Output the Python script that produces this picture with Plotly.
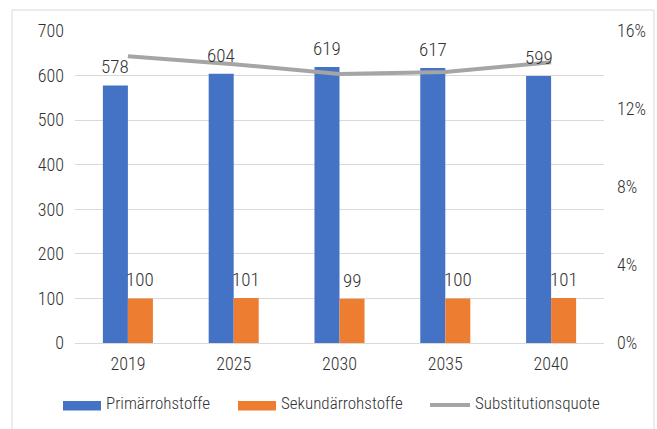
import plotly.graph_objects as go

years = ["2019", "2025", "2030", "2035", "2040"]
primaer = [578, 604, 619, 617, 599]
sekundaer = [100, 101, 99, 100, 101]
quote = [0.147, 0.143, 0.138, 0.139, 0.144]
names = ["Primärrohstoffe", "Sekundärrohstoffe", "Substitutionsquote"]
left_ticks = [0, 100, 200, 300, 400, 500, 600, 700]
right_ticks = [0, 0.04, 0.08, 0.12, 0.16]

BLUE = "#4472C4"
ORANGE = "#ED7D31"
GRAY = "#A5A5A5"
TXT = "#333333"
FONT = "Liberation Sans Narrow, Roboto Condensed, Roboto, sans-serif"
WGT = 300

W, H = 657, 429
ML, MR, MT, MB = 75, 53, 31, 86
PW, PH = W - ML - MR, H - MT - MB

def px(x):
    return (x - ML) / PW

def py(y):
    return (H - MB - y) / PH

def f(size):
    return dict(size=size, color=TXT, family=FONT, weight=WGT)

fig = go.Figure()
fig.add_trace(go.Bar(x=years, y=primaer, name=names[0], marker=dict(color=BLUE, line=dict(width=0)),
                     showlegend=False))
fig.add_trace(go.Bar(x=years, y=sekundaer, name=names[1], marker=dict(color=ORANGE, line=dict(width=0)),
                     showlegend=False))
fig.add_trace(go.Scatter(x=years, y=quote, name=names[2], mode="lines", yaxis="y2",
                         line=dict(color=GRAY, width=4), showlegend=False))

annotations = []
for i, v in enumerate(primaer):
    annotations.append(dict(x=i, y=v, text=str(v), showarrow=False, xref="x", yref="y",
                            yanchor="bottom", xshift=-12.5, yshift=5, font=f(19)))
for i, v in enumerate(sekundaer):
    annotations.append(dict(x=i, y=v, text=str(v), showarrow=False, xref="x", yref="y",
                            yanchor="bottom", xshift=12.5, yshift=5, font=f(19)))

# custom legend
shapes = [
    dict(type="rect", xref="paper", yref="paper", x0=px(12), x1=px(654), y0=py(445), y1=py(10),
         line=dict(color="#D9D9D9", width=1), fillcolor="rgba(0,0,0,0)", layer="below"),
    dict(type="rect", xref="paper", yref="paper", x0=px(63), x1=px(101), y0=py(410.5), y1=py(401),
         line=dict(width=0), fillcolor=BLUE),
    dict(type="rect", xref="paper", yref="paper", x0=px(238), x1=px(276), y0=py(410.5), y1=py(401),
         line=dict(width=0), fillcolor=ORANGE),
    dict(type="line", xref="paper", yref="paper", x0=px(430), x1=px(470), y0=py(405), y1=py(405),
         line=dict(width=4, color=GRAY)),
]
for xl, t in zip([104, 279, 473], names):
    annotations.append(dict(x=px(xl), y=py(403), xref="paper", yref="paper", text=t, showarrow=False,
                            xanchor="left", yanchor="middle", font=f(17)))

fig.update_layout(
    width=W, height=H,
    margin=dict(l=ML, r=MR, t=MT, b=MB),
    paper_bgcolor="white", plot_bgcolor="white",
    barmode="group", bargap=0.527, bargroupgap=0,
    font=f(18),
    showlegend=False,
    xaxis=dict(type="category", range=[-0.5, len(years) - 0.5], showline=True, linecolor="#D9D9D9",
               linewidth=1, ticks="", tickfont=f(18), showgrid=False, ticklabelstandoff=4),
    yaxis=dict(range=[0, 700], tickvals=left_ticks, showgrid=True, gridcolor="#D9D9D9", gridwidth=1,
               zeroline=False, ticks="", ticklabelstandoff=10, tickfont=f(18)),
    yaxis2=dict(range=[0, 0.16], tickvals=right_ticks, tickformat=".0%", overlaying="y", side="right",
                showgrid=False, zeroline=False, ticks="", ticklabelstandoff=12, tickfont=f(18)),
    annotations=annotations,
    shapes=shapes,
)

fig.write_html("out.html")
